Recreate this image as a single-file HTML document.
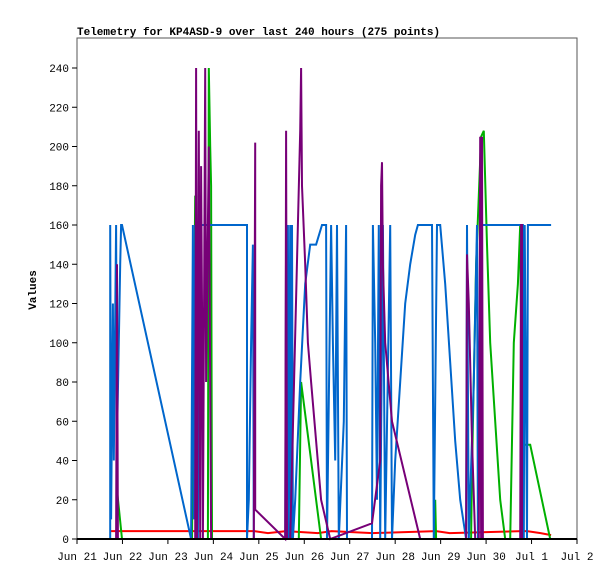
<!DOCTYPE html>
<html><head><meta charset="utf-8"><style>
body{margin:0;background:#fff;}
svg text{font-family:"Liberation Mono",monospace;font-size:11px;fill:#000;}
</style></head><body>
<svg id="chart" width="615" height="579" xmlns="http://www.w3.org/2000/svg">
<rect x="0" y="0" width="615" height="579" fill="#fff"/>
<text x="77" y="35" font-weight="bold">Telemetry for KP4ASD-9 over last 240 hours (275 points)</text>
<text transform="translate(36,290) rotate(-90)" text-anchor="middle" font-weight="bold">Values</text>
<g id="plot"></g>
</svg>
<script>
const xTickLabels=["Jun 21","Jun 22","Jun 23","Jun 24","Jun 25","Jun 26","Jun 27","Jun 28","Jun 29","Jun 30","Jul 1","Jul 2"];
const yTicks=[0,20,40,60,80,100,120,140,160,180,200,220,240];
const blueX=[0.73,0.73,0.75,0.79,0.81,0.86,0.88,0.92,0.95,0.97,0.99,2.51,2.55,2.57,2.60,2.62,2.64,2.66,2.68,3.74,3.74,3.78,3.83,3.87,3.89,4.58,4.60,4.62,4.64,4.66,4.69,4.71,4.73,4.75,4.80,4.91,5.02,5.13,5.26,5.39,5.48,5.50,5.59,5.63,5.68,5.72,5.76,5.87,5.92,5.94,6.49,6.51,6.56,6.60,6.64,6.67,6.73,6.78,6.89,6.93,7.00,7.11,7.22,7.33,7.44,7.50,7.81,7.85,7.92,7.99,8.10,8.21,8.32,8.43,8.56,8.58,8.62,8.73,8.80,8.82,8.87,8.91,9.81,9.83,9.85,9.90,9.92,9.94,10.43];
const blueV=[0,160,10,120,40,160,50,100,140,160,160,0,160,10,160,0,160,0,160,160,0,20,100,150,0,0,160,20,160,0,160,0,160,0,20,80,130,150,150,160,160,0,160,100,40,160,0,60,160,0,0,160,100,20,160,0,160,0,160,0,40,80,120,140,155,160,160,0,160,160,130,90,50,20,0,160,0,80,160,0,160,160,160,0,160,0,160,160,160];
const purpleX=[0.86,0.88,0.90,0.92,2.55,2.60,2.62,2.64,2.68,2.71,2.73,2.75,2.77,2.82,2.84,2.90,2.95,3.89,3.92,3.92,4.58,4.60,4.62,4.69,4.91,4.93,4.95,5.02,5.08,5.15,5.26,5.37,5.57,6.49,6.67,6.69,6.71,6.73,6.78,6.93,7.55,8.56,8.58,8.62,8.69,8.76,8.84,8.87,8.89,8.91,8.93,9.75,9.77,9.79,9.79];
const purpleV=[0,140,0,0,0,0,240,0,208,0,190,120,0,240,80,200,0,0,202,15,0,208,0,0,208,240,180,140,100,80,50,20,0,8,40,180,192,140,100,60,0,0,145,120,50,0,0,205,0,205,0,0,160,160,0];
const greenX=[0.88,0.99,2.53,2.60,2.62,2.88,2.90,2.93,2.95,2.97,4.88,4.93,5.37,7.86,7.88,7.90,8.67,8.69,8.78,8.84,8.89,8.95,9.02,9.09,9.20,9.31,9.42,9.53,9.61,9.70,9.75,9.79,9.97,10.41];
const greenV=[25,0,0,175,0,0,240,200,180,0,0,80,0,0,20,0,0,35,140,175,205,208,150,100,60,20,0,0,100,130,160,48,48,0];
const redX=[0.73,2.53,3.0,3.9,4.2,4.6,5.3,5.6,6.5,7.9,8.2,9.8,9.9,10.2,10.43];
const redV=[4,4,4,4,3,4,3,4,3,4,3,4,4,3,2];
const blackX=[0.73,10.43];
const blackV=[0,0];

const L=77,R=577,T=38,B=539,days=11,vmax=240;
const sx=d=>L+d*(R-L)/days;
const sy=v=>B-v*(B-68)/vmax;
const NS="http://www.w3.org/2000/svg";
const g=document.getElementById('plot');
function mk(tag,attrs){const e=document.createElementNS(NS,tag);for(const k in attrs)e.setAttribute(k,attrs[k]);g.appendChild(e);return e;}

const frame=mk('rect',{x:L,y:T,width:R-L,height:B-T,fill:'none',stroke:'#555','stroke-width':1});



yTicks.forEach(v=>{
  const t=mk('line',{x1:L-5,x2:L,y1:sy(v),y2:sy(v),stroke:'#000'});
  
  
  const tx=mk('text',{x:L-8,y:sy(v)+4,'text-anchor':'end'});
  tx.textContent=v;
  
  
});
xTickLabels.forEach((lab,i)=>{
  const t=mk('line',{x1:sx(i),x2:sx(i),y1:B,y2:B+5,stroke:'#000'});
  
  
  const tx=mk('text',{x:sx(i),y:B+21,'text-anchor':'middle'});
  tx.textContent=lab;
  
  
});

function series(xs,vs,color,name){
  const pts=xs.map((d,i)=>sx(d).toFixed(1)+','+sy(vs[i]).toFixed(1)).join(' ');
  const p=mk('polyline',{points:pts,fill:'none',stroke:color,'stroke-width':2,'stroke-linejoin':'miter'});
  
  
}
series(redX,redV,'#ff0000','series-red');
series(greenX,greenV,'#00b000','series-green');
series(blueX,blueV,'#0066cc','series-blue');
series(purpleX,purpleV,'#770077','series-purple');
series(blackX,blackV,'#000000','series-black');
const axis=mk('line',{x1:L,x2:R,y1:B,y2:B,stroke:'#000','stroke-width':2});


</script>
</body></html>
